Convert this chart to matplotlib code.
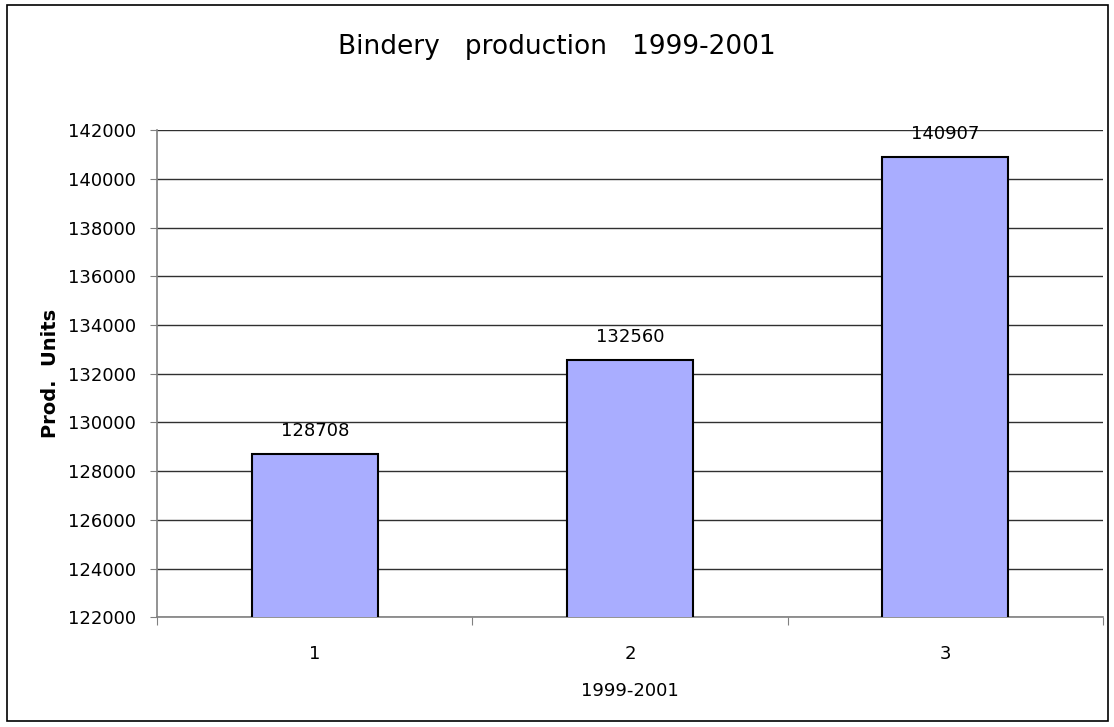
import matplotlib.pyplot as plt
from matplotlib.patches import Rectangle

categorias = ['1', '2', '3']
produccion = [128708, 132560, 140907]
ticks_y = list(range(122000, 142001, 2000))

fig = plt.figure(figsize=(11.14, 7.27), dpi=100)
ax = fig.add_axes([0.141, 0.151, 0.849, 0.670])

posiciones = [0, 1, 2]
ax.bar(posiciones, produccion, width=0.4, color='#a9adff',
       edgecolor='black', linewidth=1.5, zorder=3)

for x, v in zip(posiciones, produccion):
    ax.annotate(str(v), (x, v), xytext=(0, 10), textcoords='offset points',
                ha='center', va='bottom', fontsize=13)

ax.set_ylim(122000, 142000)
ax.set_yticks(ticks_y)
ax.set_xlim(-0.5, 2.5)
ax.set_xticks([-0.5, 0.5, 1.5, 2.5])
ax.set_xticklabels([])
ax.set_xticks(posiciones, minor=True)
ax.set_xticklabels(categorias, minor=True)
ax.tick_params(axis='x', which='minor', length=0, pad=20, labelsize=13)
ax.tick_params(axis='x', which='major', length=6, color='#808080', direction='out')
ax.tick_params(axis='y', length=5, color='#808080', labelsize=13, pad=10)

ax.yaxis.grid(True, color='#303030', linewidth=1)
ax.set_axisbelow(True)
for lado in ['top', 'right']:
    ax.spines[lado].set_visible(False)
for lado in ['left', 'bottom']:
    ax.spines[lado].set_color('#808080')
    ax.spines[lado].set_linewidth(1.2)

ax.set_ylabel('Prod.  Units', fontsize=14, fontweight='bold', labelpad=6)
ax.set_xlabel('1999-2001', fontsize=13, labelpad=14)
fig.text(0.5, 0.935, 'Bindery   production   1999-2001', ha='center', va='center',
         fontsize=19)

fig.patches.append(Rectangle((0.006, 0.008), 0.989, 0.985, transform=fig.transFigure,
                             fill=False, edgecolor='black', linewidth=1.2))

fig.savefig('out.png', dpi=100)
